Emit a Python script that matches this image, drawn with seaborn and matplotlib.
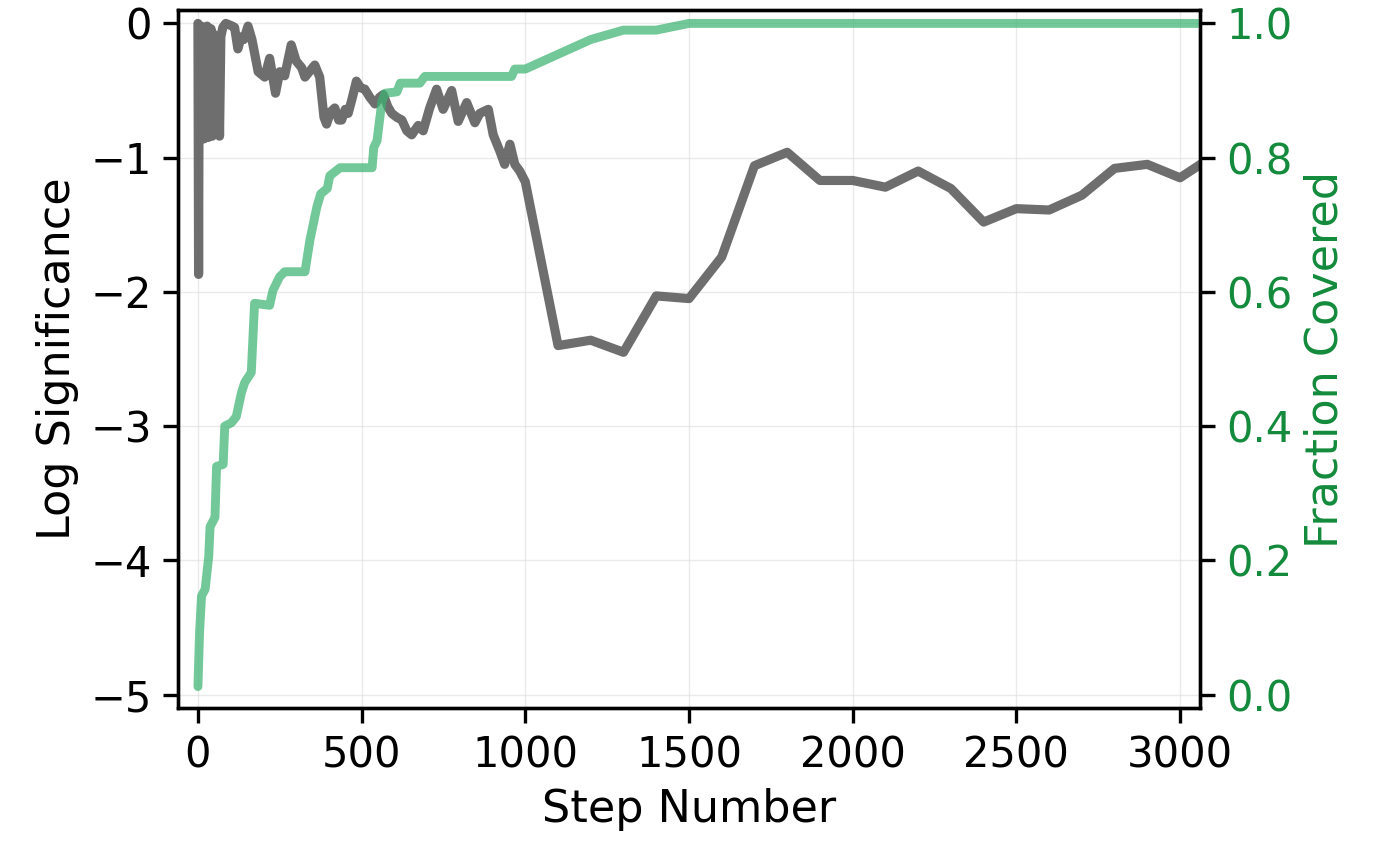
import numpy as np
import pandas as pd
import matplotlib
matplotlib.use("Agg")
import matplotlib.pyplot as plt
import seaborn as sns

# log significance (left axis)
sig_steps = [0, 2, 4, 7, 10, 13, 16, 19, 22, 25, 28, 31, 34, 37, 40, 44, 48, 52, 56, 60,
             63, 66, 70, 76, 85, 95, 105, 112, 122, 132, 140, 153, 165, 184, 204, 219, 237,
             250, 265, 285, 300, 317, 327, 337, 357, 372, 385, 393, 405, 418, 430, 439, 450,
             459, 472, 484, 497, 510, 525, 541, 555, 566, 580, 592, 608, 623, 638, 653, 673,
             688, 708, 729, 749, 775, 795, 821, 846, 861, 887, 902, 922, 937, 953, 968, 983,
             1000, 1100, 1200, 1300, 1400, 1500, 1600, 1700, 1800, 1900, 2000, 2100, 2200,
             2300, 2400, 2500, 2600, 2700, 2800, 2900, 3000, 3100]
sig_vals = [0.0, -1.87, -0.05, -0.85, -0.02, -0.80, -0.03, -0.86, -0.05, -0.70, -0.02, -0.85,
            -0.06, -0.78, -0.04, -0.84, -0.08, -0.80, -0.10, -0.82, -0.15, -0.84, -0.10, -0.03,
            0.0, -0.01, -0.02, -0.03, -0.19, -0.10, -0.12, -0.02, -0.12, -0.36, -0.40, -0.26,
            -0.52, -0.36, -0.39, -0.16, -0.28, -0.33, -0.40, -0.37, -0.31, -0.40, -0.70, -0.75,
            -0.66, -0.63, -0.72, -0.72, -0.64, -0.67, -0.55, -0.43, -0.48, -0.49, -0.55, -0.60,
            -0.55, -0.53, -0.62, -0.67, -0.70, -0.72, -0.80, -0.83, -0.76, -0.80, -0.63, -0.49,
            -0.64, -0.50, -0.73, -0.59, -0.74, -0.67, -0.64, -0.83, -0.95, -1.05, -0.90, -1.05,
            -1.10, -1.18, -2.40, -2.36, -2.45, -2.03, -2.05, -1.74, -1.06, -0.96, -1.17, -1.17,
            -1.22, -1.10, -1.23, -1.48, -1.38, -1.39, -1.28, -1.08, -1.05, -1.15, -0.99]

# fraction covered (right axis)
cov_steps = [0, 5, 11, 22, 33, 37, 52, 57, 77, 82, 102, 117, 133, 143, 163, 173, 219, 229,
             249, 265, 327, 342, 363, 375, 395, 403, 434, 532, 537, 547, 562, 572, 608, 618,
             678, 693, 958, 968, 1000, 1100, 1200, 1300, 1400, 1500, 1600, 1700, 1800, 1900,
             2000, 2100, 2200, 2300, 2400, 2500, 2600, 2700, 2800, 2900, 3000, 3100]
cov_vals = [0.012, 0.093, 0.147, 0.157, 0.206, 0.25, 0.264, 0.34, 0.343, 0.40, 0.405, 0.414,
            0.45, 0.465, 0.48, 0.583, 0.58, 0.602, 0.622, 0.63, 0.63, 0.677, 0.726, 0.746,
            0.754, 0.773, 0.785, 0.785, 0.815, 0.825, 0.884, 0.896, 0.898, 0.911, 0.911, 0.921,
            0.921, 0.932, 0.932, 0.954, 0.976, 0.99, 0.99, 1.0, 1.0, 1.0, 1.0, 1.0, 1.0, 1.0,
            1.0, 1.0, 1.0, 1.0, 1.0, 1.0, 1.0, 1.0, 1.0, 1.0]

sig_df = pd.DataFrame({"step": sig_steps, "logsig": sig_vals})
cov_df = pd.DataFrame({"step": cov_steps, "frac": cov_vals})

sns.set_style("ticks")
plt.rcParams['font.family'] = ['DejaVu Sans']
plt.rcParams['font.size'] = 15
for key in ['text.color', 'axes.labelcolor', 'xtick.color', 'ytick.color']:
    plt.rcParams[key] = 'black'

text_green = '#138a3c'

fig = plt.figure(figsize=(6.93, 4.23), dpi=200)
ax = fig.add_axes([0.1284, 0.1631, 0.8658 - 0.1284, 0.9882 - 0.1631])

sns.lineplot(data=sig_df, x="step", y="logsig", ax=ax, color='#555555', alpha=0.85,
             lw=3.3, estimator=None, sort=False, solid_joinstyle='round')
ax.set_xlim(-61, 3061)
ax.set_ylim(-5.1, 0.1)
ax.set_yticks([0, -1, -2, -3, -4, -5])
ax.set_xticks([0, 500, 1000, 1500, 2000, 2500, 3000])
ax.set_xlabel("Step Number", fontsize=16)
ax.set_ylabel("Log Significance", fontsize=16)
ax.grid(True, color='#dddddd', lw=0.5, alpha=0.6)

ax2 = ax.twinx()
sns.lineplot(data=cov_df, x="step", y="frac", ax=ax2, color='mediumseagreen', alpha=0.72,
             lw=3.2, estimator=None, sort=False, solid_joinstyle='round')
ax2.set_ylim(-0.02, 1.02)
ax2.set_yticks([0.0, 0.2, 0.4, 0.6, 0.8, 1.0])
ax2.set_ylabel("Fraction Covered", color=text_green, fontsize=16)
ax2.tick_params(axis='y', colors='black', labelcolor=text_green)

for a in (ax, ax2):
    for s in a.spines.values():
        s.set_linewidth(1.2)
        s.set_color('black')
    a.tick_params(length=5.5, width=1.2, labelsize=15, pad=4)

fig.savefig("out.png", dpi=200)
